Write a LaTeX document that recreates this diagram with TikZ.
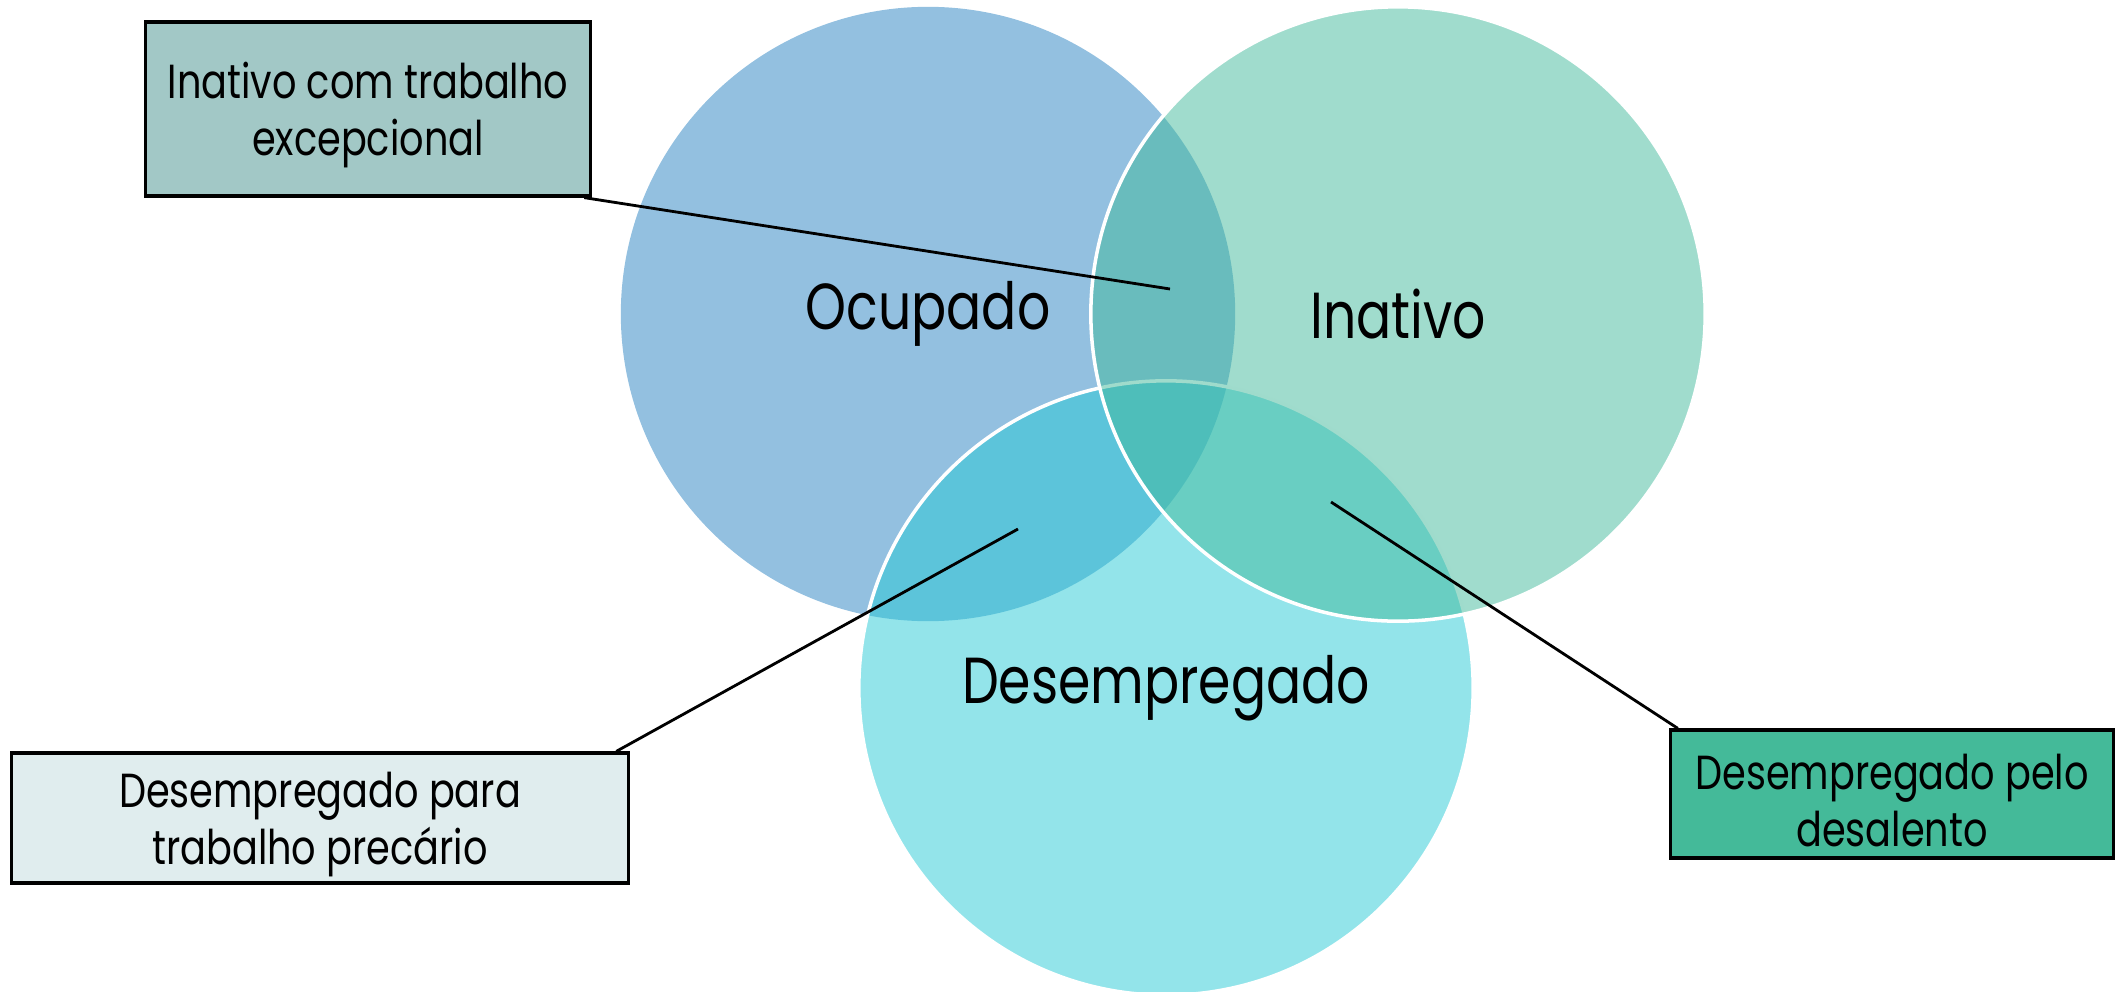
\documentclass[tikz,border=0pt]{standalone}
\usepackage{fontspec}
\setmainfont[FakeStretch=0.8]{Poppins}
\definecolor{ocuC}{HTML}{2781C1}
\definecolor{desC}{HTML}{27C9D5}
\definecolor{inaC}{HTML}{41B99B}
\definecolor{excepC}{HTML}{A2C8C6}
\definecolor{precC}{HTML}{E0EDEE}
\definecolor{desalC}{HTML}{44BA99}
\newcommand{\topo}{\rule{0pt}{14pt}}
\begin{document}
\begin{tikzpicture}[x=0.01cm,y=-0.01cm,
		venn/.style={circle,minimum size=6.14cm,inner sep=0pt,fill opacity=0.5,text opacity=1,
			draw=white,line width=1pt,font=\fontsize{18.5}{22}\selectfont},
		caixa/.style={draw,line width=0.9pt,align=center,inner sep=0pt,font=\fontsize{13.6}{16.2}\selectfont}]
		\useasboundingbox (0,0) rectangle (2116,991);
		\clip (0,0) rectangle (2116,991);
		\node[venn,fill=ocuC,draw=none] (ocu) at (928,314) {Ocupado};
		\node[venn,fill=desC] (des) at (1166,688) {Desempregado};
		\node[venn,fill=inaC] (ina) at (1398,314) {Inativo};
		\node[caixa,fill=excepC,minimum width=4.45cm,minimum height=1.74cm] (excep) at (368,109)
			{\topo Inativo com trabalho\\excepcional};
		\node[caixa,fill=precC,minimum width=6.17cm,minimum height=1.30cm] (prec) at (320,818)
			{\topo Desempregado para\\trabalho precário};
		\node[caixa,fill=desalC,minimum width=4.43cm,minimum height=1.28cm] (desal) at (1892,794)
			{\topo Desempregado pelo\\desalento};
		\coordinate (ocuina) at (1170,289);
		\coordinate (ocudes) at (1018,529);
		\coordinate (inades) at (1331,502);
		\draw[line width=0.8pt] ([xshift=-0.08cm]excep.south east) -- (ocuina);
		\draw[line width=0.8pt] ([xshift=-0.14cm]prec.north east) -- (ocudes);
		\draw[line width=0.8pt] (inades) -- ([xshift=0.09cm]desal.north west);
	\end{tikzpicture}
\end{document}
